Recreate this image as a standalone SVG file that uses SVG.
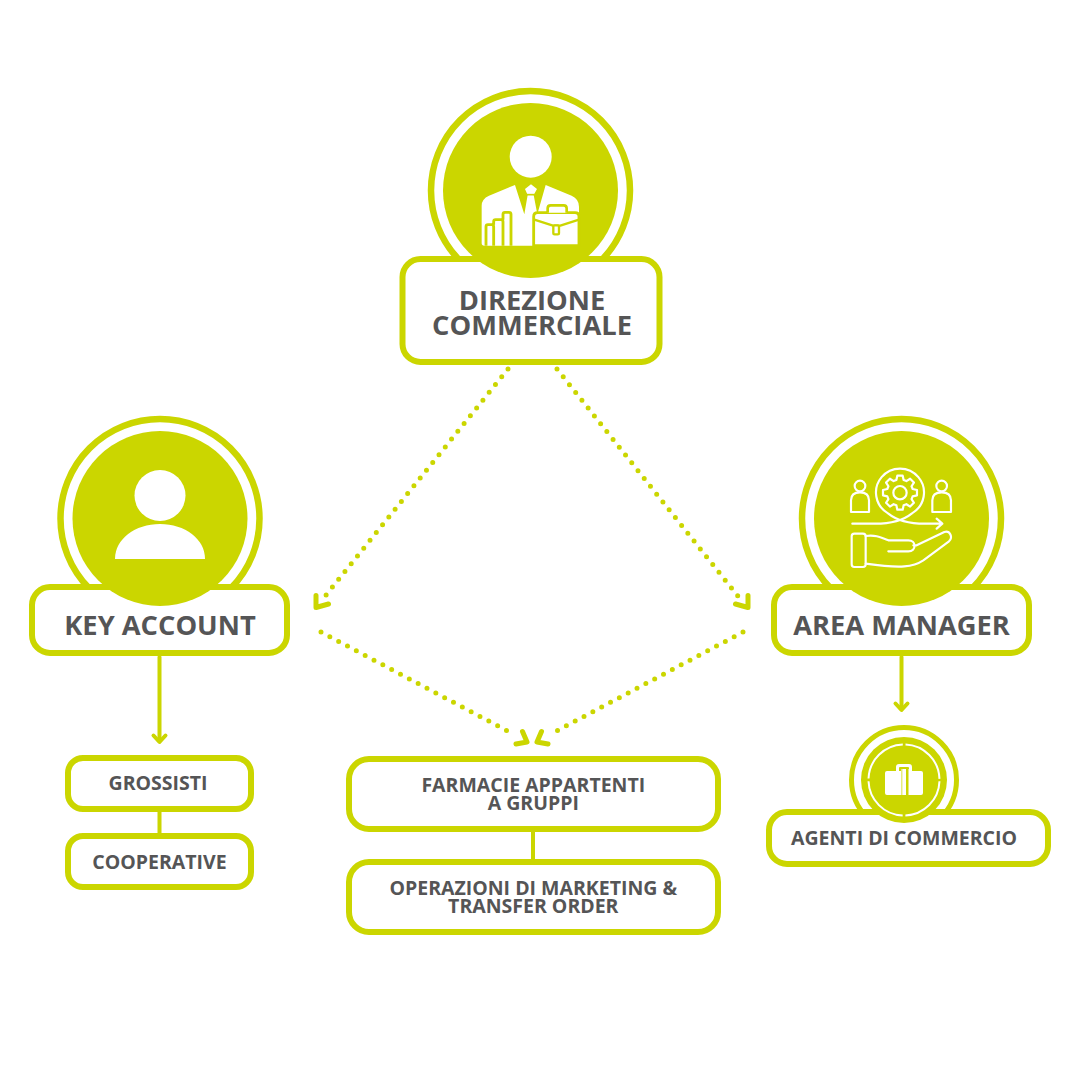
<svg xmlns="http://www.w3.org/2000/svg" width="1080" height="1080" viewBox="0 0 1080 1080">
<style>
.ring{fill:none;stroke:#cbd600;stroke-width:6.500}
.disc{fill:#cbd600}
.box{fill:#fff;stroke:#cbd600;stroke-width:6}
.t{font-family:"Open Sans","Noto Sans",sans-serif;font-weight:700;fill:#555556;text-anchor:middle}
.t1{font-size:27.300px}
.t2{font-size:19.500px}
.dots{fill:none;stroke:#cbd600;stroke-width:5;stroke-linecap:round;stroke-dasharray:0 10}
.solid{fill:none;stroke:#cbd600;stroke-width:4;stroke-linecap:round;stroke-linejoin:round}
.head{fill:none;stroke:#cbd600;stroke-width:5;stroke-linecap:round;stroke-linejoin:round}
.ic{fill:none;stroke:#fff;stroke-width:6.500;stroke-linecap:round;stroke-linejoin:round}
.gk{fill:none;stroke:#cbd600;stroke-width:8.500;stroke-linejoin:round}
</style>
<rect width="1080" height="1080" fill="#fff"/>
<g id="connectors">
<path class="dots" d="M508 369L322 600"/>
<path class="dots" d="M557 369L741 600"/>
<path class="dots" d="M321 632L515 735"/>
<path class="dots" d="M743 632L549 735"/>
<path class="head" d="M316 595.500V607.500L328.500 604"/>
<path class="head" d="M748 595.500V607.500L735.500 604"/>
<path class="head" d="M522.500 731.500L527 742L516 744"/>
<path class="head" d="M541.500 731.500L537 742L548 744"/>
<path class="solid" d="M159.500 657V741"/>
<path class="solid" d="M153.500 735.500L159.500 742L165.500 735.500"/>
<path class="solid" d="M901.500 657V709"/>
<path class="solid" d="M895.500 703.500L901.500 710L907.500 703.500"/>
<path class="solid" d="M159.500 810V835"/>
<path class="solid" d="M533 830V862"/>
</g>
<g id="direzione">
<circle class="ring" cx="530.500" cy="190.500" r="99.500"/>
<rect class="box" x="402.500" y="259" width="257" height="103" rx="18"/>
<circle class="disc" cx="530.500" cy="190.500" r="87.500"/>
<circle cx="530.700" cy="156.700" r="21" fill="#fff"/>
<g transform="translate(475 175) scale(.3333)">
<path fill="#fff" d="M20 205V92Q20 72 42 62L120 30L148 118L158 60L150 42L168 28L186 42L176 60L187 118L212 30L290 62Q312 72 312 95V205Q312 212 305 212H28Q20 212 20 205Z"/>
<path class="gk" d="M155 59H179" style="stroke-width:5"/>
<path class="gk" d="M33 212V155Q33 149 39 149H50Q56 149 56 155V212M56 149V140Q56 134 62 134H78Q84 134 84 140V212M84 134V118Q84 112 90 112H102Q108 112 108 118V212"/>
<path fill="#fff" stroke="#cbd600" stroke-width="8.500" d="M176 212V125Q176 113 188 113H300Q312 113 312 125V212Z"/>
<path fill="#fff" stroke="#cbd600" stroke-width="8" d="M218 113V100Q218 91 227 91H266Q275 91 275 100V113"/>
<path class="gk" d="M178 134L234 152H256L312 134" style="stroke-width:7"/>
<rect x="235" y="151" width="17" height="27" rx="4" fill="#fff" stroke="#cbd600" stroke-width="7"/>
</g>
<text class="t t1" x="532" y="309.500">DIREZIONE</text>
<text class="t t1" x="532" y="334.500">COMMERCIALE</text>
</g>
<g id="key-account">
<circle class="ring" cx="160" cy="518.500" r="99.500"/>
<rect class="box" x="32" y="587" width="255" height="66" rx="18"/>
<circle class="disc" cx="160" cy="518.500" r="87.500"/>
<circle cx="160" cy="495.500" r="25.500" fill="#fff"/>
<path fill="#fff" d="M115 559C115 539 135 524 160 524C185 524 205 539 205 559Z"/>
<text class="t t1" x="160" y="635.300">KEY ACCOUNT</text>
</g>
<g id="area-manager">
<circle class="ring" cx="901.500" cy="518.500" r="99.500"/>
<rect class="box" x="774" y="587" width="255" height="66" rx="18"/>
<circle class="disc" cx="901.500" cy="518.500" r="87.500"/>
<g transform="translate(845 462) scale(.3333)" class="ic">
<circle cx="45" cy="72" r="16"/>
<path d="M18 150V115Q18 91 45 91Q72 91 72 115V150Z"/>
<circle cx="290" cy="72" r="16"/>
<path d="M262 150V115Q262 91 290 91Q318 91 318 115V150Z"/>
<path d="M22 185H90C140 185 175 175 201 154A72 72 0 1 0 129 154C155 175 190 185 240 185H290M275 170L292 185L275 200"/>
<path transform="translate(165 92) scale(1.200)" style="stroke-width:5.500" d="M31.700-9.100L42.500-6.700V6.700L31.700 9.100L28.900 16L34.800 25.300L25.300 34.800L16 28.900L9.100 31.700L6.700 42.500H-6.700L-9.100 31.700L-16 28.900L-25.300 34.800L-34.800 25.300L-28.900 16L-31.700 9.100L-42.500 6.700V-6.700L-31.700-9.100L-28.900-16L-34.800-25.300L-25.300-34.800L-16-28.900L-9.100-31.700L-6.700-42.500H6.700L9.100-31.700L16-28.900L25.300-34.800L34.800-25.300L28.900-16Z"/>
<circle cx="165" cy="92" r="20"/>
<rect x="20" y="215" width="42" height="100" rx="8"/>
<path d="M62 222C90 218 105 225 130 235H190C215 235 215 268 190 268H130M205 250H215L298 210C315 205 325 225 312 238L235 295C205 315 170 320 62 305"/>
</g>
<text class="t t1" x="901.500" y="635.300">AREA MANAGER</text>
</g>
<g id="grossisti">
<rect class="box" x="68" y="758" width="183" height="51" rx="15"/>
<text class="t t2" x="158" y="790">GROSSISTI</text>
</g>
<g id="cooperative">
<rect class="box" x="68" y="836" width="183" height="51" rx="15"/>
<text class="t t2" x="159.500" y="869">COOPERATIVE</text>
</g>
<g id="farmacie">
<rect class="box" x="349" y="759" width="369" height="70" rx="20"/>
<text class="t t2" x="533.300" y="792">FARMACIE APPARTENTI</text>
<text class="t t2" x="533.300" y="810">A GRUPPI</text>
</g>
<g id="operazioni">
<rect class="box" x="349" y="862" width="369" height="70" rx="20"/>
<text class="t t2" x="533.300" y="894.500">OPERAZIONI DI MARKETING &amp;</text>
<text class="t t2" x="533.300" y="912.500">TRANSFER ORDER</text>
</g>
<g id="agenti">
<circle class="ring" cx="904" cy="780" r="52.500" style="stroke-width:5"/>
<rect class="box" x="769" y="812" width="279" height="52" rx="18"/>
<circle class="disc" cx="904" cy="780" r="43"/>
<circle cx="904" cy="780" r="35.500" fill="none" stroke="#fff" stroke-width="2" stroke-dasharray="53 2.770" transform="rotate(2 904 780)"/>
<path fill="#fff" d="M885 773Q885 771 887 771H896V767Q896 764 899 764H909Q912 764 912 767V771H921Q923 771 923 773V793Q923 795 921 795H887Q885 795 885 793Z"/>
<path fill="#cbd600" d="M899 771V768Q899 767 900 767H908Q909 767 909 768V771Z"/>
<rect x="901" y="769" width="8" height="26" fill="#e6eb80"/>
<rect x="902.500" y="769" width="3.500" height="26" fill="#fff"/>
<rect x="906" y="769" width="2" height="26" fill="#cbd600"/>
<text class="t t2" x="904" y="845">AGENTI DI COMMERCIO</text>
</g>
</svg>
